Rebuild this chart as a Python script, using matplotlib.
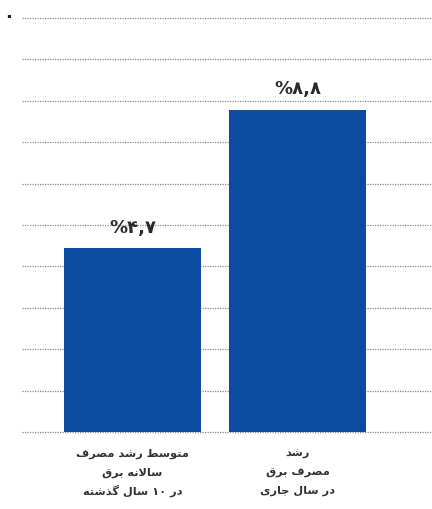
import matplotlib
matplotlib.use("Agg")
import matplotlib.pyplot as plt

# ---- data ----
categories = [
    ["متوسط رشد مصرف", "سالانه برق", "در ۱۰ سال گذشته"],
    ["رشد", "مصرف برق", "در سال جاری"],
]
value_labels = ["%۴,۷", "%۸,۸"]
bar_heights = [4.44, 7.78]          # in grid units (10 dotted grid steps)
grid_ticks = list(range(0, 11))
top_tick_label = "۰"

# ---- minimal Persian shaping (presentation forms + visual order) ----
FORMS = {
    "ا": ("\uFE8D", "\uFE8E", None, None),
    "ب": ("\uFE8F", "\uFE90", "\uFE91", "\uFE92"),
    "ت": ("\uFE95", "\uFE96", "\uFE97", "\uFE98"),
    "ج": ("\uFE9D", "\uFE9E", "\uFE9F", "\uFEA0"),
    "د": ("\uFEA9", "\uFEAA", None, None),
    "ذ": ("\uFEAB", "\uFEAC", None, None),
    "ر": ("\uFEAD", "\uFEAE", None, None),
    "س": ("\uFEB1", "\uFEB2", "\uFEB3", "\uFEB4"),
    "ش": ("\uFEB5", "\uFEB6", "\uFEB7", "\uFEB8"),
    "ص": ("\uFEB9", "\uFEBA", "\uFEBB", "\uFEBC"),
    "ط": ("\uFEC1", "\uFEC2", "\uFEC3", "\uFEC4"),
    "ف": ("\uFED1", "\uFED2", "\uFED3", "\uFED4"),
    "ق": ("\uFED5", "\uFED6", "\uFED7", "\uFED8"),
    "ل": ("\uFEDD", "\uFEDE", "\uFEDF", "\uFEE0"),
    "م": ("\uFEE1", "\uFEE2", "\uFEE3", "\uFEE4"),
    "ن": ("\uFEE5", "\uFEE6", "\uFEE7", "\uFEE8"),
    "ه": ("\uFEE9", "\uFEEA", "\uFEEB", "\uFEEC"),
    "و": ("\uFEED", "\uFEEE", None, None),
    "ی": ("\uFBFC", "\uFBFD", "\uFBFE", "\uFBFF"),
    "گ": ("\uFB92", "\uFB93", "\uFB94", "\uFB95"),
}


def shape_word(w):
    out = []
    i = 0
    n = len(w)
    while i < n:
        ch = w[i]
        if ch not in FORMS:
            out.append(ch)
            i += 1
            continue
        prev = w[i - 1] if i > 0 else None
        prev_conn = prev in FORMS and FORMS[prev][2] is not None and i > 0
        if ch == "ل" and i + 1 < n and w[i + 1] == "ا":
            out.append("\uFEFC" if prev_conn else "\uFEFB")
            i += 2
            continue
        nxt = w[i + 1] if i + 1 < n else None
        next_conn = nxt in FORMS and FORMS[ch][2] is not None
        iso, fin, ini, med = FORMS[ch]
        if prev_conn and next_conn:
            out.append(med)
        elif prev_conn:
            out.append(fin)
        elif next_conn:
            out.append(ini)
        else:
            out.append(iso)
        i += 1
    return out


def rtl(s):
    words = s.split(" ")
    shaped = []
    for w in words:
        if all(c in "۰۱۲۳۴۵۶۷۸۹0123456789" for c in w):
            shaped.append(w)
        else:
            shaped.append("".join(reversed(shape_word(w))))
    return " ".join(reversed(shaped))


plt.rcParams["font.family"] = ["DejaVu Sans"]

fig = plt.figure(figsize=(4.32, 5.10), dpi=100)
W, H = 432, 510
ax = fig.add_axes([22 / W, 1 - 433 / H, (432 - 22) / W, (433 - 19) / H])

x = list(range(len(bar_heights)))
bar_color = "#0c4ca0"
ax.bar(x, bar_heights, width=0.83, color=bar_color, zorder=3)

ax.set_xlim(-0.670, 1.815)
ax.set_ylim(0, 10)
ax.set_xticks([])
ax.set_yticks([])
for t in grid_ticks:
    ax.axhline(t, linestyle=(0, (1, 1)), color="#8a8a8a", linewidth=0.9,
               zorder=2 if t == 0 else 0, clip_on=False)
for s in ax.spines.values():
    s.set_visible(False)

# value labels above the bars
for xi, h, lab in zip(x, bar_heights, value_labels):
    ax.annotate(lab, (xi, h), xytext=(0, 9), textcoords="offset points",
                ha="center", va="bottom", fontsize=13, fontweight="bold",
                color="#2a2a2a")

# category labels below
for xi, lines in zip(x, categories):
    for k, line in enumerate(lines):
        ax.annotate(rtl(line), (xi, 0), xytext=(0, -15 - k * 13.5),
                    textcoords="offset points", ha="center", va="center",
                    fontsize=8.2, fontweight="bold", color="#333333")

# the single y label at the top
fig.text(9 / W, 1 - 17 / H, top_tick_label, ha="center", va="center",
         fontsize=13, fontweight="bold", color="#222222")

fig.savefig("out.png", dpi=100)
